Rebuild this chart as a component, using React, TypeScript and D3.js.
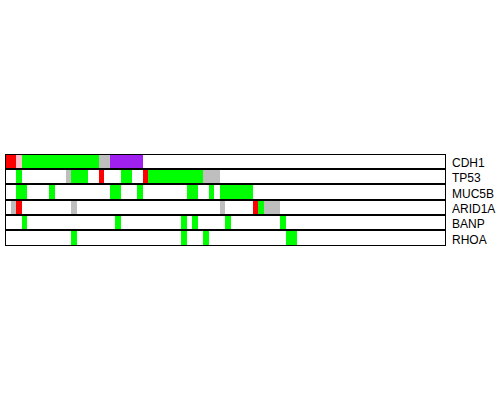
import React from "react";
import * as d3 from "d3";

const genes = ["CDH1", "TP53", "MUC5B", "ARID1A", "BANP", "RHOA"];

// segments: [start, end, type]
const cdh1: [number, number, string][] = [
  [0, 2, "red"], [2, 3, "pink"], [3, 17, "green"], [17, 19, "gray"], [19, 25, "purple"],
];
const tp53: [number, number, string][] = [
  [2, 3, "green"], [11, 12, "gray"], [12, 15, "green"], [17, 18, "red"], [21, 23, "green"],
  [25, 26, "red"], [26, 36, "green"], [36, 39, "gray"],
];
const muc5b: [number, number, string][] = [
  [2, 4, "green"], [8, 9, "green"], [19, 21, "green"], [24, 25, "green"], [33, 35, "green"],
  [37, 38, "green"], [39, 45, "green"],
];
const arid1a: [number, number, string][] = [
  [1, 2, "gray"], [2, 3, "red"], [12, 13, "gray"], [39, 40, "gray"], [45, 46, "red"],
  [46, 47, "green"], [47, 50, "gray"],
];
const banp: [number, number, string][] = [
  [3, 4, "green"], [20, 21, "green"], [32, 33, "green"], [34, 35, "green"], [40, 41, "green"],
  [50, 51, "green"],
];
const rhoa: [number, number, string][] = [
  [12, 13, "green"], [32, 33, "green"], [36, 37, "green"], [51, 53, "green"],
];

const segmentsByGene = [cdh1, tp53, muc5b, arid1a, banp, rhoa];
const positions = [0, 80];

const colorMap: Record<string, string> = {
  red: "#FF0000",
  pink: "#FFC0CB",
  green: "#00FF00",
  gray: "#BEBEBE",
  purple: "#A020F0",
};

export default function App() {
  const width = 500;
  const height = 400;
  const x = d3.scaleLinear().domain(positions).range([5, 445]);
  const yTop = 154;
  const yBottom = 245;
  const y = d3.scaleLinear().domain([0, genes.length]).range([yTop, yBottom]);

  return (
    <svg width={width} height={height} style={{ position: "absolute", left: 0, top: 0 }}>
      <rect x={0} y={0} width={width} height={height} fill="white" />
      {genes.map((g, i) => {
        const top = Math.round(y(i));
        const bottom = Math.round(y(i + 1)) + (i === genes.length - 1 ? 1 : 0);
        const segs = segmentsByGene[i];
        return (
          <g key={g}>
            {segs.map((s, j) => (
              <rect
                key={j}
                x={x(s[0])}
                y={top}
                width={x(s[1]) - x(s[0])}
                height={bottom - top}
                fill={colorMap[s[2]]}
                shapeRendering="crispEdges"
              />
            ))}
            <rect
              x={Math.round(x(positions[0])) + 0.5}
              y={top + 0.5}
              width={Math.round(x(positions[1])) - Math.round(x(positions[0]))}
              height={bottom - top - 1}
              fill="none"
              stroke="black"
              strokeWidth={1}
            />
            <text
              x={452}
              y={(top + bottom) / 2 + 5.5}
              fontFamily="Liberation Sans, Arial, sans-serif"
              fontSize={12}
              fill="black"
            >
              {g}
            </text>
          </g>
        );
      })}
    </svg>
  );
}
